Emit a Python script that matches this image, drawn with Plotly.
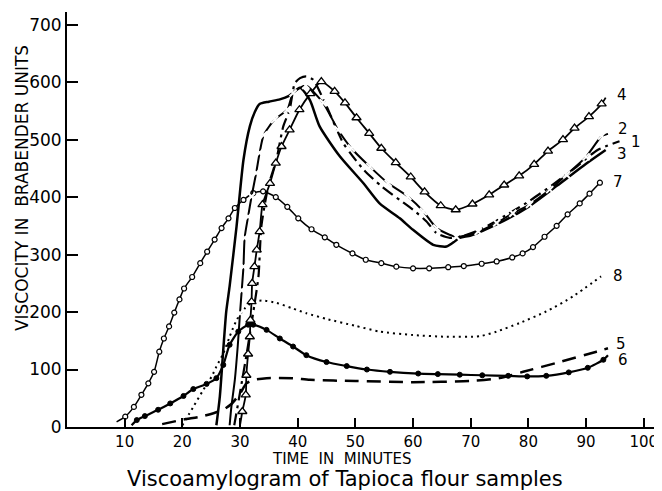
import plotly.graph_objects as go

# ---------------- data ----------------
# Curve 1 : dash-dot line
t1 = [29.0, 30.0, 31.2, 32.3, 33.2, 33.7, 34.9, 36.3, 37.5, 38.6, 39.5, 40.4, 41.5, 42.7, 45.0, 47.9, 51.4, 54.5,
      57.7, 60.0, 62.3, 64.1, 66.4, 68.5, 72.0, 76.0, 80.0, 84.0, 88.0, 92.0, 95.8]
v1 = [3, 60, 130, 200, 262, 349, 419, 465, 523, 552, 598, 607, 610, 604, 558, 494, 448, 419,
      395, 378, 358, 337, 329, 332, 345, 368, 392, 420, 450, 482, 497]

# Curve 2 : solid line with x marks
t2 = [28.2, 28.5, 29.1, 29.6, 30.0, 30.3, 30.6, 30.8, 31.4, 32.0, 32.8, 33.4, 34.1, 36.0, 38.2, 39.2, 41.4,
      44.4, 47.0, 49.3, 52.5, 55.7, 59.1, 61.8, 64.1, 67.5, 71.3, 74.5, 77.3, 80.2, 83.7, 86.6, 90.0, 92.7, 93.8]
v2 = [3, 35, 82, 140, 198, 238, 279, 329, 366, 401, 442, 477, 508, 535, 552, 581, 594,
      564, 517, 485, 453, 424, 401, 375, 346, 331, 340, 355, 372, 387, 413, 439, 470, 506, 510]

# Curve 3 : plain solid line
t3 = [25.9, 26.5, 27.1, 27.6, 28.2, 29.4, 30.6, 31.7, 32.6, 33.4, 35.0, 36.9, 38.5, 40.4, 42.1, 43.8, 47.3,
      51.4, 54.2, 57.7, 60.0, 63.5, 65.8, 68.1, 70.0, 75.0, 80.0, 85.0, 90.0, 93.4]
v3 = [3, 53, 135, 200, 245, 349, 465, 523, 549, 562, 566, 570, 576, 590, 569, 523, 471,
      424, 389, 363, 343, 317, 314, 329, 333, 355, 383, 420, 458, 482]

# Curve 4 : solid line with open triangles
t4 = [30.0, 30.4, 31.0, 31.1, 31.4, 31.7, 31.8, 32.0, 32.1, 32.5, 32.9, 33.4, 33.9, 35.2, 36.2, 37.2, 38.6,
      40.3, 42.2, 44.1, 46.4, 48.2, 50.2, 52.4, 54.5, 57.0, 59.6, 62.0, 64.8, 67.4, 70.3, 73.2, 75.8, 78.4,
      81.0, 83.4, 86.0, 88.0, 90.5, 92.7, 93.4]
v4 = [3, 27, 56, 90, 127, 157, 186, 218, 250, 279, 308, 340, 387, 424, 459, 488, 517,
      552, 580, 601, 584, 564, 538, 511, 485, 460, 435, 409, 385, 378, 388, 404, 421, 437,
      457, 480, 500, 520, 540, 562, 573]

# Curve 5 : dashed line
t5 = [16.5, 20.2, 23.1, 25.4, 27.1, 28.5, 30.0, 31.1, 32.3, 34.6, 39.2, 42.1, 50.0, 60.0, 70.0, 75.0,
      79.1, 85.4, 91.8, 93.8]
v5 = [5, 13, 18, 24, 30, 40, 58, 76, 82, 85, 85, 82, 80, 78, 80, 85, 96, 113, 131, 137]

# Curve 6 : solid line with filled dots
t6 = [11.2, 12.1, 13.5, 15.8, 17.9, 20.2, 21.9, 24.2, 25.9, 27.1, 28.2, 29.7, 31.4, 32.3, 34.6, 36.9, 39.2,
      41.5, 45.0, 48.5, 52.0, 56.0, 60.9, 64.3, 68.1, 72.0, 76.5, 79.8, 83.1, 87.0, 90.3, 93.0, 93.8]
v6 = [3, 12, 19, 30, 41, 54, 66, 75, 85, 108, 143, 166, 178, 178, 169, 154, 140,
      125, 113, 106, 100, 96, 93, 92, 91, 90, 89, 88, 89, 95, 103, 117, 125]

# Curve 7 : solid line with open circles
t7 = [8.6, 10.1, 11.6, 12.9, 14.1, 15.1, 16.0, 16.8, 17.7, 18.6, 19.5, 20.3, 21.7, 23.1, 24.3, 25.6, 26.8,
      28.0, 29.1, 30.6, 32.3, 34.0, 36.2, 38.2, 40.1, 42.4, 44.7, 46.7, 49.5, 51.8, 54.5, 57.1, 60.0,
      62.8, 66.1, 68.8, 71.9, 74.5, 77.2, 79.0, 80.8, 82.8, 84.9, 86.8, 88.9, 90.6, 92.4]
v7 = [9, 18, 35, 56, 76, 96, 131, 154, 175, 199, 222, 241, 261, 285, 305, 326, 346,
      363, 381, 395, 407, 410, 400, 383, 363, 344, 330, 317, 302, 291, 285, 279, 276,
      276, 278, 280, 284, 288, 295, 302, 313, 331, 350, 370, 389, 406, 425]

# Curve 8 : dotted line
t8 = [20.0, 21.9, 23.6, 25.1, 25.9, 27.1, 28.2, 29.4, 30.8, 32.3, 34.0, 36.3, 39.2, 41.5, 45.0, 50.0,
      54.2, 60.0, 65.8, 71.6, 74.5, 78.5, 83.1, 87.7, 92.6]
v8 = [3, 35, 64, 88, 105, 128, 157, 186, 206, 218, 220, 216, 206, 198, 188, 176,
      166, 160, 157, 158, 166, 181, 201, 227, 262]

# curve number labels (position of each label in data units)
label_text = ["4", "2", "1", "3", "7", "8", "5", "6"]
label_t = [95.0, 95.2, 97.4, 95.0, 94.4, 94.4, 94.8, 95.2]
label_v = [578, 518, 496, 475, 426, 263, 145, 117]

x_ticks = [10, 20, 30, 40, 50, 60, 70, 80, 90, 100]
y_ticks = [0, 100, 200, 300, 400, 500, 600, 700]

FONT = "DejaVu Sans"
fig = go.Figure()


def line(t, v, width, dash="solid", smooth=0.6):
    fig.add_trace(go.Scatter(x=t, y=v, mode="lines",
                             line=dict(color="black", width=width, dash=dash,
                                       shape="spline", smoothing=smooth),
                             hoverinfo="skip", showlegend=False))


def marks(t, v, symbol, size, lw=1.5, fill="white"):
    fig.add_trace(go.Scatter(x=t, y=v, mode="markers",
                             marker=dict(symbol=symbol, size=size, color=fill,
                                         line=dict(color="black", width=lw)),
                             hoverinfo="skip", showlegend=False))


line(t8, v8, 2, dash="2px,4px")
line(t5, v5, 2.5, dash="14px,8px")
line(t7, v7, 1.5)
marks(t7[1:], v7[1:], "circle", 5, lw=1.2)
line(t6, v6, 2.2)
marks(t6[1:-1], v6[1:-1], "circle", 5, lw=1, fill="black")
line(t3, v3, 2.5)
line(t1, v1, 2.2, dash="12px,5px,3px,5px")
line(t2, v2, 2)
marks(t2[4:-1], v2[4:-1], "x-thin-open", 7, lw=2)
line(t4, v4, 1.8)
marks(t4[1:-1], v4[1:-1], "triangle-up", 8, lw=1.3)

for s, tx, vy in zip(label_text, label_t, label_v):
    fig.add_annotation(x=tx, y=vy, text=s, showarrow=False, xanchor="left", yanchor="middle",
                       font=dict(family=FONT, size=15, color="black"))

fig.add_annotation(xref="paper", yref="paper", x=-0.076, y=0.576, text="VISCOCITY IN  BRABENDER UNITS",
                   textangle=-90, showarrow=False, xanchor="center", yanchor="middle",
                   font=dict(family=FONT, size=17, color="black"))
fig.add_annotation(xref="paper", yref="paper", x=0.466, y=-0.076, text="TIME  IN  MINUTES",
                   showarrow=False, xanchor="center", yanchor="middle",
                   font=dict(family=FONT, size=15, color="black"))
fig.add_annotation(xref="paper", yref="paper", x=0.471, y=-0.126, text="Viscoamylogram of Tapioca flour samples",
                   showarrow=False, xanchor="center", yanchor="middle",
                   font=dict(family=FONT, size=21, color="black"))

fig.update_xaxes(range=[0, 102.3], tickvals=x_ticks, ticktext=[str(v) for v in x_ticks],
                 showline=True, linecolor="black", linewidth=2, ticks="inside", ticklen=9,
                 tickwidth=1.5, tickcolor="black", showgrid=False, zeroline=False, automargin=False,
                 tickfont=dict(family=FONT, size=15, color="black"))
fig.update_yaxes(range=[0, 722], tickvals=y_ticks, ticktext=[str(v) for v in y_ticks],
                 showline=True, linecolor="black", linewidth=2, ticks="inside", ticklen=11,
                 tickwidth=1.5, tickcolor="black", showgrid=False, zeroline=False, automargin=False,
                 tickfont=dict(family=FONT, size=17, color="black"))

# the page body has an 8px margin, so the figure is made 8px smaller and shifted
fig.update_layout(width=654, height=483, margin=dict(l=59, r=5, t=4, b=64, autoexpand=False),
                  plot_bgcolor="white", paper_bgcolor="white", showlegend=False)

fig.write_html("out.html")
